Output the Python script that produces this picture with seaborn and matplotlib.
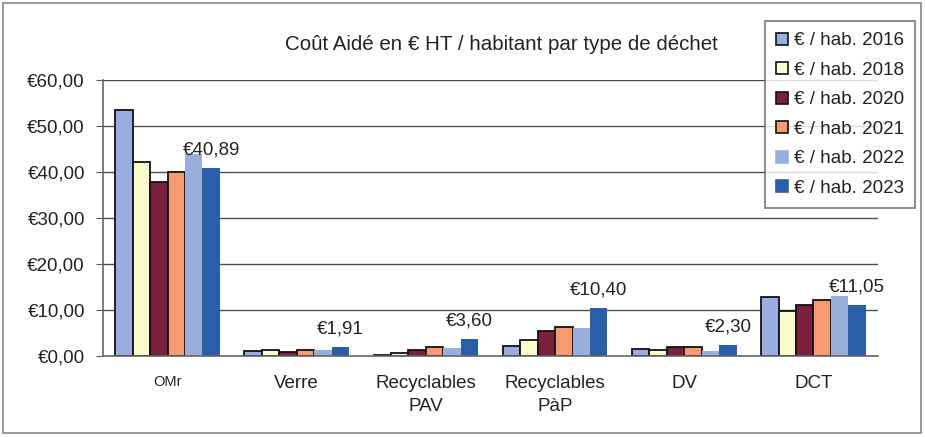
import pandas as pd
import matplotlib
matplotlib.use('Agg')
import matplotlib.pyplot as plt
import seaborn as sns
from matplotlib.lines import Line2D
from matplotlib.patches import Rectangle

categories = ['OMr', 'Verre', 'Recyclables\nPAV', 'Recyclables\nPàP', 'DV', 'DCT']
series = ['€ / hab. 2016', '€ / hab. 2018', '€ / hab. 2020',
          '€ / hab. 2021', '€ / hab. 2022', '€ / hab. 2023']
v2016 = [53.5, 1.0, 0.2, 2.2, 1.5, 12.8]
v2018 = [42.2, 1.2, 0.6, 3.5, 1.3, 9.8]
v2020 = [37.8, 0.8, 1.4, 5.4, 1.9, 11.0]
v2021 = [40.0, 1.4, 1.9, 6.3, 1.9, 12.1]
v2022 = [44.0, 1.3, 1.8, 6.1, 1.1, 13.0]
v2023 = [40.89, 1.91, 3.60, 10.40, 2.30, 11.05]

colors = ['#9aaee2', '#fbfbcc', '#7a1f3d', '#f79a72', '#98afdc', '#2b5ea8']
edged = [True, True, True, True, False, False]

rows = []
for name, vals in zip(series, [v2016, v2018, v2020, v2021, v2022, v2023]):
    for cat, v in zip(categories, vals):
        rows.append({'cat': cat, 'serie': name, 'val': v})
df = pd.DataFrame(rows)

sns.set_style('white')
plt.rcParams['font.family'] = ['Liberation Sans', 'DejaVu Sans']

fig = plt.figure(figsize=(9.25, 4.37), dpi=100)
fig.patch.set_facecolor('white')
ax = fig.add_axes([103 / 925, 1 - 356 / 437, 775 / 925, 276 / 437])

sns.barplot(data=df, x='cat', y='val', hue='serie', hue_order=series,
            order=categories, palette=colors, width=0.81, gap=0,
            saturation=1, legend=False, ax=ax)

for cont, col, e in zip(ax.containers, colors, edged):
    for p in cont:
        if e:
            p.set_edgecolor('#111111')
            p.set_linewidth(1.3)
        else:
            p.set_edgecolor(col)
            p.set_linewidth(0)

# labels on the 2023 bars
for p, v in zip(ax.containers[5], v2023):
    x = p.get_x() + p.get_width() / 2
    ax.annotate('€' + f'{v:.2f}'.replace('.', ','), (x, v),
                xytext=(0, 7), textcoords='offset points',
                ha='center', va='bottom', fontsize=13.5, color='#222222')

ax.set_ylim(0, 60)
ax.set_xlim(-0.5, len(categories) - 0.5)
ax.set_yticks(range(0, 61, 10))
ax.set_yticklabels([f'€{t},00' for t in range(0, 61, 10)], fontsize=13.5,
                   color='#222222')
ax.yaxis.grid(True, color='#4d4d4d', linewidth=1)
ax.set_axisbelow(True)
ax.set_xlabel('')
ax.set_ylabel('')

ax.set_xticks(range(len(categories)))
ax.set_xticklabels(categories, fontsize=13.5, color='#222222', linespacing=1.4)
ax.get_xticklabels()[0].set_fontsize(10.5)
ax.set_xticks([i - 0.5 for i in range(len(categories) + 1)], minor=True)
ax.tick_params(axis='x', which='major', length=0, pad=14)
ax.tick_params(axis='x', which='minor', length=6, color='#555555', direction='inout')
ax.tick_params(axis='y', length=5, color='#555555', direction='out', left=True, pad=8)

for s in ['top', 'right']:
    ax.spines[s].set_visible(False)
for s in ['left', 'bottom']:
    ax.spines[s].set_color('#666666')
    ax.spines[s].set_linewidth(1.2)

fig.text(501 / 925, 1 - 44 / 437, 'Coût Aidé en € HT / habitant par type de déchet',
         ha='center', va='center', fontsize=14.8, color='#222222')

handles = [Line2D([0], [0], marker='s', linestyle='', markersize=8,
                  markerfacecolor=c, markeredgecolor='#111111' if e else c,
                  markeredgewidth=1.2)
           for c, e in zip(colors, edged)]
leg = fig.legend(handles, series, loc='upper left',
                 bbox_to_anchor=(765 / 925, 1 - 21 / 437),
                 frameon=True, fancybox=False, fontsize=13.5,
                 handlelength=0.6, handletextpad=0.35, labelspacing=0.66,
                 borderpad=0.6, borderaxespad=0)
leg.get_frame().set_edgecolor('#555555')
leg.get_frame().set_linewidth(1.2)
for t in leg.get_texts():
    t.set_color('#222222')

fig.patches.append(Rectangle((3 / 925, 4 / 437), 918 / 925, 430 / 437,
                             transform=fig.transFigure, fill=False,
                             edgecolor='#888888', linewidth=1.2))

fig.savefig('out.png', dpi=100)
